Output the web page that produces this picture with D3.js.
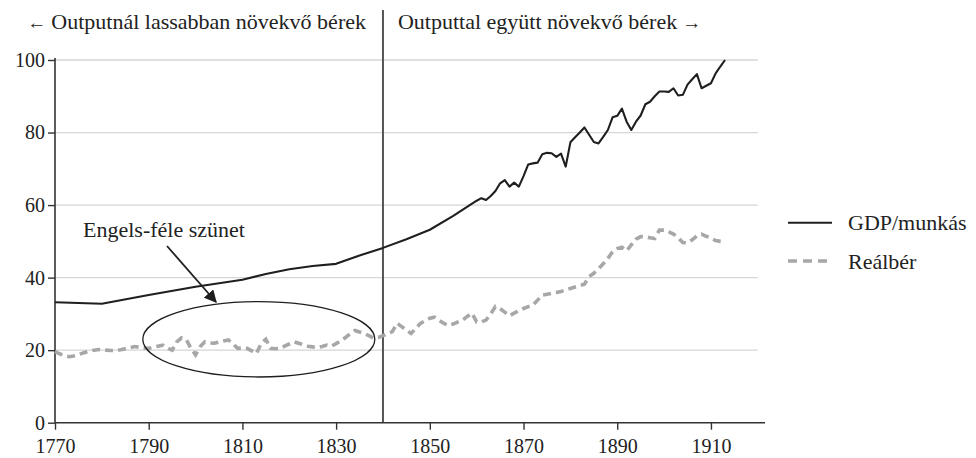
<!DOCTYPE html>
<html>
<head>
<meta charset="utf-8">
<script src="https://cdn.jsdelivr.net/npm/d3@7"></script>
<style>
  body { margin: 0; background: #fff; }
</style>
</head>
<body>
<svg id="chart" width="976" height="458"></svg>
<script>
// GDP per worker (1913 = 100)
const gdpYears = [1770, 1775, 1780, 1790, 1800, 1810, 1815, 1820, 1825, 1830, 1835, 1840, 1845, 1850, 1855, 1860,
  1861, 1862, 1863, 1864, 1865, 1866, 1867, 1868, 1869, 1870, 1871, 1872, 1873, 1874, 1875, 1876, 1877, 1878, 1879, 1880,
  1881, 1882, 1883, 1884, 1885, 1886, 1887, 1888, 1889, 1890, 1891, 1892, 1893, 1894, 1895, 1896, 1897, 1898, 1899, 1900,
  1901, 1902, 1903, 1904, 1905, 1906, 1907, 1908, 1909, 1910, 1911, 1912, 1913];
const gdpValues = [33.2, 33.0, 32.8, 35.2, 37.5, 39.4, 41.0, 42.3, 43.2, 43.8, 46.1, 48.2, 50.6, 53.2, 57.0, 61.2,
  61.9, 61.4, 62.5, 63.9, 66.0, 66.9, 65.1, 66.2, 65.1, 68.0, 71.2, 71.5, 71.7, 74.0, 74.4, 74.3, 73.3, 74.2, 70.6, 77.3,
  78.7, 80.0, 81.4, 79.4, 77.4, 77.0, 78.8, 80.7, 84.2, 84.6, 86.6, 83.0, 80.7, 83.0, 84.7, 87.8, 88.5, 90.0, 91.3, 91.3,
  91.2, 92.2, 90.2, 90.4, 93.2, 94.7, 96.1, 92.2, 92.9, 93.6, 96.3, 98.2, 100];

// real wage, yearly 1770-1913
const wageYears = d3.range(1770, 1914);
const wageValues = [
  19.6, 19.0, 18.5, 18.2, 18.4, 18.8, 19.2, 19.6, 19.9, 20.1,
  20.2, 20.0, 19.9, 19.9, 20.1, 20.4, 20.7, 21.0, 20.8, 20.6,
  20.5, 20.8, 21.1, 21.4, 20.6, 20.0, 22.3, 23.4, 23.0, 20.5,
  18.7, 21.0, 22.3, 22.0, 21.9, 22.2, 22.5, 22.8, 21.7, 20.5,
  20.6, 20.5, 19.8, 19.1, 21.9, 23.0, 20.5, 20.4, 20.5, 21.1,
  21.7, 22.3, 21.9, 21.5, 21.1, 20.9, 20.7, 21.0, 21.4, 21.1,
  21.8, 22.6, 23.5, 24.5, 25.4, 25.0, 24.6, 24.0, 23.3, 23.5,
  24.0, 24.6, 25.1, 27.4, 26.5, 25.5, 24.6, 26.0, 27.4, 28.1,
  28.8, 29.1, 28.2, 27.4, 26.8, 27.2, 27.8, 28.3, 29.3, 30.2,
  27.8, 27.8, 28.3, 30.0, 32.0, 31.4, 30.5, 29.5, 30.2, 30.9,
  31.5, 32.0, 32.4, 33.8, 35.2, 35.4, 35.7, 35.9, 36.2, 36.6,
  37.0, 37.4, 37.8, 38.2, 40.3, 41.2, 42.4, 43.8, 45.3, 47.1,
  48.0, 48.4, 47.4, 49.0, 50.6, 51.3, 51.2, 51.0, 50.8, 53.1,
  53.1, 52.6, 52.0, 51.0, 49.7, 49.6, 50.4, 51.5, 52.0, 51.4,
  50.9, 50.2, 50.0, 49.9];

const xTicks = [1770, 1790, 1810, 1830, 1850, 1870, 1890, 1910];
const yTicks = [0, 20, 40, 60, 80, 100];
const seriesNames = ["GDP/munkás", "Reálbér"];
const headerLeft = "Outputnál lassabban növekvő bérek";
const headerRight = "Outputtal együtt növekvő bérek";
const noteText = "Engels-féle szünet";
const splitYear = 1840;

const svg = d3.select("#chart");
const tickSize = 20;   // digits
const labelSize = 22;  // words
const serif = "'Liberation Serif', 'Times New Roman', Times, serif";

const x = d3.scaleLinear().domain([1770, 1920]).range([55, 757.8]);
const y = d3.scaleLinear().domain([0, 100]).range([422.7, 60]);

// gridlines
svg.append("g")
  .selectAll("line")
  .data(yTicks.filter(d => d > 0))
  .enter().append("line")
  .attr("x1", x(1770)).attr("x2", x(1920))
  .attr("y1", d => y(d)).attr("y2", d => y(d))
  .attr("stroke", "#d6d6d6")
  .attr("stroke-width", 1.3);

// split line at 1840
svg.append("line")
  .attr("x1", x(splitYear)).attr("x2", x(splitYear))
  .attr("y1", 10).attr("y2", y(0))
  .attr("stroke", "#555")
  .attr("stroke-width", 2);

// axes
const xAxis = svg.append("g")
  .attr("transform", "translate(0," + y(0) + ")")
  .call(d3.axisBottom(x).tickValues(xTicks).tickSize(7).tickPadding(9).tickFormat(d3.format("d")));
xAxis.select(".domain").remove();
xAxis.append("line").attr("x1", x(1770)).attr("x2", 765).attr("stroke", "#333").attr("stroke-width", 1.6);

const yAxis = svg.append("g")
  .attr("transform", "translate(" + x(1770) + ",0)")
  .call(d3.axisLeft(y).tickValues(yTicks).tickSize(7).tickPadding(3));
yAxis.select(".domain").attr("stroke", "#333").attr("stroke-width", 1.6).attr("d", "M0," + y(0) + "V" + (y(100) - 2));

svg.selectAll(".tick line").attr("stroke", "#333").attr("stroke-width", 1.4);
svg.selectAll("g").attr("font-family", null).attr("font-size", null);
svg.selectAll(".tick text")
  .style("font-family", serif)
  .style("font-size", tickSize + "px")
  .style("fill", "#222");

// lines
const gdpLine = d3.line().x((d, i) => x(gdpYears[i])).y(d => y(d));
const wageLine = d3.line().x((d, i) => x(wageYears[i])).y(d => y(d));

svg.append("path")
  .attr("d", wageLine(wageValues))
  .attr("fill", "none")
  .attr("stroke", "#a7a7a9")
  .attr("stroke-width", 3.6)
  .attr("stroke-dasharray", "8,5");

svg.append("path")
  .attr("d", gdpLine(gdpValues))
  .attr("fill", "none")
  .attr("stroke", "#1f1f1f")
  .attr("stroke-width", 2.1)
  .attr("stroke-linejoin", "round");

// headers, arrows a bit smaller than words
const hl = svg.append("text").attr("class", "lbl")
  .attr("x", x(splitYear) - 17).attr("y", 29)
  .attr("text-anchor", "end");
hl.append("tspan").attr("class", "arr").text("\u2190");
hl.append("tspan").attr("dx", 5).text(headerLeft);

const hr = svg.append("text").attr("class", "lbl")
  .attr("x", x(splitYear) + 15).attr("y", 29);
hr.append("tspan").text(headerRight);
hr.append("tspan").attr("class", "arr").attr("dx", 5).text("\u2192");

// legend
const legend = svg.append("g").attr("transform", "translate(788,0)");
legend.append("line").attr("x1", 0).attr("x2", 44).attr("y1", 222.7).attr("y2", 222.7)
  .attr("stroke", "#1f1f1f").attr("stroke-width", 2.1);
legend.append("line").attr("x1", 0).attr("x2", 44).attr("y1", 261).attr("y2", 261)
  .attr("stroke", "#a7a7a9").attr("stroke-width", 3.6).attr("stroke-dasharray", "9,6");
legend.selectAll("text.leg")
  .data(seriesNames)
  .enter().append("text")
  .attr("class", "leg lbl")
  .attr("x", 60).attr("y", (d, i) => 230 + i * 38.5)
  .text(d => d);

// Engels annotation
svg.append("defs").append("marker")
  .attr("id", "arrow")
  .attr("viewBox", "0 0 10 10")
  .attr("refX", 9).attr("refY", 5)
  .attr("markerWidth", 7).attr("markerHeight", 7)
  .attr("orient", "auto")
  .append("path").attr("d", "M0,0L10,5L0,10z").attr("fill", "#1f1f1f");

svg.append("ellipse")
  .attr("cx", x(1813.5)).attr("cy", y(23))
  .attr("rx", 116).attr("ry", 37.7)
  .attr("fill", "none")
  .attr("stroke", "#1f1f1f")
  .attr("stroke-width", 1.3);

svg.append("line")
  .attr("x1", 167).attr("y1", 246)
  .attr("x2", 216).attr("y2", 302)
  .attr("stroke", "#1f1f1f")
  .attr("stroke-width", 1.8)
  .attr("marker-end", "url(#arrow)");

svg.append("text").attr("class", "lbl")
  .attr("x", 83).attr("y", 237)
  .text(noteText);

svg.selectAll("text.lbl")
  .style("font-family", serif)
  .style("font-size", labelSize + "px")
  .style("fill", "#222");
svg.selectAll("tspan.arr").style("font-size", "19px");
</script>
</body>
</html>
